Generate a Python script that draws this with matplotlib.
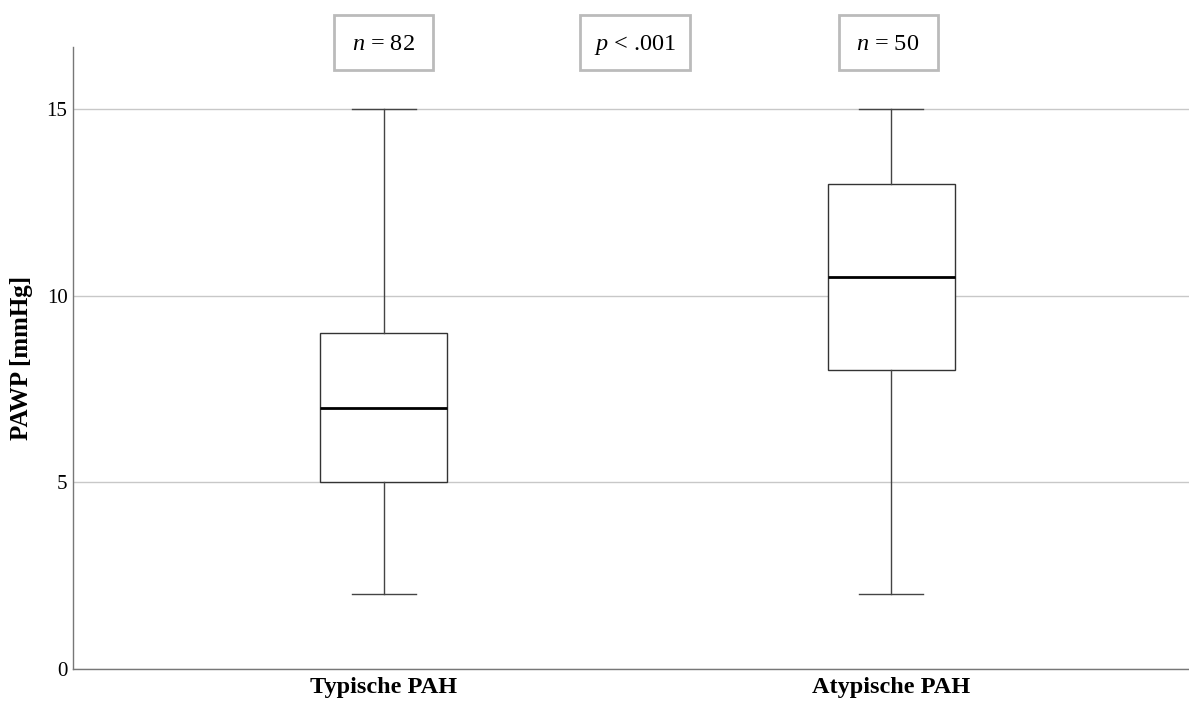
import matplotlib
matplotlib.use("Agg")
import matplotlib.pyplot as plt
import matplotlib.transforms as mtransforms
from matplotlib.patches import Rectangle

plt.rcParams['font.family'] = ['Liberation Serif', 'DejaVu Serif']
plt.rcParams['mathtext.fontset'] = 'custom'
plt.rcParams['mathtext.rm'] = 'Liberation Serif'
plt.rcParams['mathtext.it'] = 'Liberation Serif:italic'

# PAWP-Verteilung je Gruppe
groups = ['Typische PAH', 'Atypische PAH']
whisker_low = [2, 2]
q1 = [5, 8]
median = [7, 10.5]
q3 = [9, 13]
whisker_high = [15, 15]
n_values = [82, 50]
p_text = r'$p$ < .001'

stats = []
for i, g in enumerate(groups):
    stats.append(dict(label=g, whislo=whisker_low[i], q1=q1[i], med=median[i],
                      q3=q3[i], whishi=whisker_high[i], fliers=[]))

W, H = 1189, 701
fig = plt.figure(figsize=(W / 100, H / 100), dpi=100)
ax = fig.add_axes([73 / W, 32 / H, 1 - 73 / W, (669 - 47) / H])

ax.bxp(stats, positions=[0, 1], widths=0.25, patch_artist=True,
       boxprops=dict(facecolor='white', edgecolor='#333333', linewidth=1),
       medianprops=dict(color='black', linewidth=2),
       whiskerprops=dict(color='#444444', linewidth=1),
       capprops=dict(color='#444444', linewidth=1),
       capwidths=0.126, zorder=3)

ax.set_xlim(-0.612, 1.587)
ax.set_ylim(0, 16.66)
ax.set_yticks([0, 5, 10, 15])
ax.yaxis.grid(True, color='#c8c8c8', linewidth=1)
ax.set_axisbelow(True)

for s in ['top', 'right']:
    ax.spines[s].set_visible(False)
for s in ['left', 'bottom']:
    ax.spines[s].set_color('#777777')
    ax.spines[s].set_linewidth(1)

ax.tick_params(axis='both', length=0)
ax.tick_params(axis='y', labelsize=15, pad=4)
ax.tick_params(axis='x', labelsize=17.5, pad=6)
for lbl in ax.get_xticklabels():
    lbl.set_fontweight('bold')

ax.set_ylabel('PAWP [mmHg]', fontsize=18, fontweight='bold', labelpad=10)

# Stichprobengrößen und p-Wert in Kästen über den Boxen
trans = mtransforms.blended_transform_factory(ax.transData, fig.transFigure)
labels = [r'$n$ = %d' % n_values[0], p_text, r'$n$ = %d' % n_values[1]]
xpos = [0, 0.496, 0.994]
box_w = [99 / 507.5, 110 / 507.5, 99 / 507.5]
y_top, y_bot = 1 - 15 / H, 1 - 70 / H
for x, t, bw in zip(xpos, labels, box_w):
    ax.add_patch(Rectangle((x - bw / 2, y_bot), bw, y_top - y_bot,
                           transform=trans, facecolor='white',
                           edgecolor='#bbbbbb', linewidth=2, clip_on=False))
    ax.text(x, (y_top + y_bot) / 2 - 0.003, t, transform=trans, ha='center',
            va='center', fontsize=17.5, clip_on=False)

fig.savefig('out.png', dpi=100)
